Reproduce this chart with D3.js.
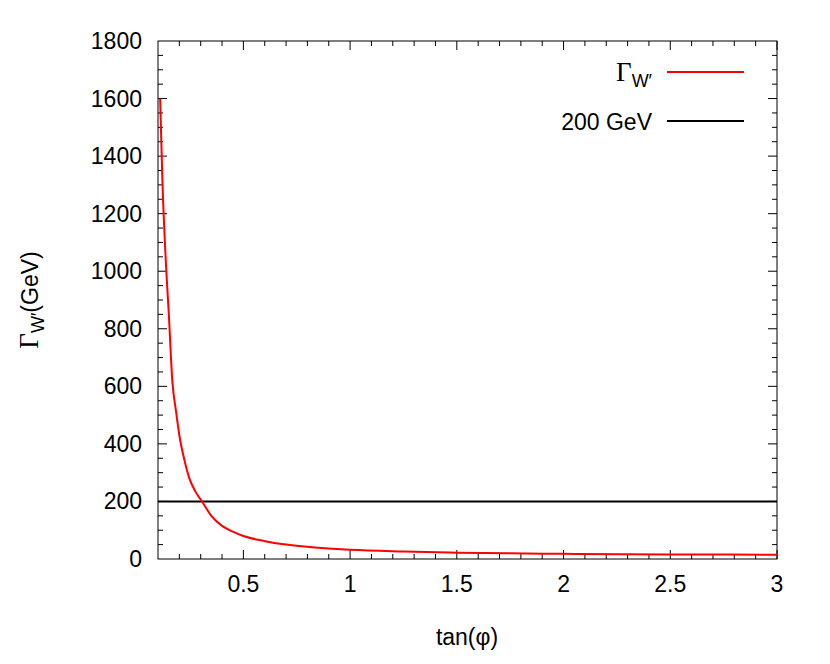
<!DOCTYPE html>
<html><head><meta charset="utf-8">
<script src="https://cdn.jsdelivr.net/npm/d3@7"></script>
<style>body{margin:0;background:#fff}text{font-family:"Liberation Sans",Arial,sans-serif}</style>
</head><body><div id="plot"></div>
<script>
// values
const tanPhi = [0.11, 0.12, 0.139, 0.15, 0.167, 0.185, 0.2, 0.225, 0.247, 0.275, 0.306, 0.35, 0.4, 0.45, 0.5, 0.6, 0.7, 0.85, 1.0, 1.25, 1.5, 2.0, 2.5, 3.0];
const width = [1600, 1330, 1000, 860, 620, 510, 430, 340, 280, 235, 200, 150, 115, 95, 80, 62, 50, 39, 32, 26, 22, 18, 16, 15];
const refLevel = 200;
const xTicks = [0.5, 1, 1.5, 2, 2.5, 3];
const yTicks = [0, 200, 400, 600, 800, 1000, 1200, 1400, 1600, 1800];

const W = 830, H = 664;
const svg = d3.select("#plot").append("svg").attr("width", W).attr("height", H);
const x = d3.scaleLinear().domain([0.1, 3]).range([158, 777]);
const y = d3.scaleLinear().domain([0, 1800]).range([559, 41]);

// frame
svg.append("rect").attr("x", 158).attr("y", 41).attr("width", 619).attr("height", 518)
  .attr("fill", "none").attr("stroke", "#000").attr("stroke-width", 1);

// ticks (gnuplot style: inward, mirrored)
const minorX = d3.range(0.2, 3.0001, 0.1);
const minorY = d3.range(50, 1800, 50);
minorX.forEach(v => {
  const big = xTicks.some(t => Math.abs(t - v) < 1e-6);
  const l = big ? 9 : 5;
  svg.append("line").attr("x1", x(v)).attr("x2", x(v)).attr("y1", 559).attr("y2", 559 - l).attr("stroke", "#000");
  svg.append("line").attr("x1", x(v)).attr("x2", x(v)).attr("y1", 41).attr("y2", 41 + l).attr("stroke", "#000");
});
minorY.forEach(v => {
  const l = v % 200 === 0 ? 9 : 5;
  svg.append("line").attr("x1", 158).attr("x2", 158 + l).attr("y1", y(v)).attr("y2", y(v)).attr("stroke", "#000");
  svg.append("line").attr("x1", 777).attr("x2", 777 - l).attr("y1", y(v)).attr("y2", y(v)).attr("stroke", "#000");
});
svg.selectAll(".xl").data(xTicks).enter().append("text")
  .attr("x", d => x(d)).attr("y", 592).attr("text-anchor", "middle").attr("font-size", 23).text(d => d);
svg.selectAll(".yl").data(yTicks).enter().append("text")
  .attr("x", 142).attr("y", d => y(d) + 8).attr("text-anchor", "end").attr("font-size", 23).text(d => d);

// axis titles
svg.append("text").attr("x", 467).attr("y", 645).attr("text-anchor", "middle").attr("font-size", 23).text("tan(φ)");
const yt = svg.append("text").attr("transform", "translate(38,300) rotate(-90)").attr("text-anchor", "middle").attr("font-size", 23);
yt.append("tspan").attr("font-family", "Liberation Serif, serif").attr("font-size", 27).text("Γ");
yt.append("tspan").attr("dy", 6).attr("font-size", 18).text("W′");
yt.append("tspan").attr("dy", -6).text("(GeV)");

// curves
svg.append("line").attr("x1", x(0.1)).attr("x2", x(3)).attr("y1", y(refLevel)).attr("y2", y(refLevel))
  .attr("stroke", "#000").attr("stroke-width", 2);
const line = d3.line().x((d, i) => x(tanPhi[i])).y(d => y(d)).curve(d3.curveMonotoneX);
svg.append("path").attr("d", line(width)).attr("fill", "none").attr("stroke", "#ff0000").attr("stroke-width", 2);

// legend
svg.append("line").attr("x1", 667).attr("x2", 744).attr("y1", 72).attr("y2", 72).attr("stroke", "#ff0000").attr("stroke-width", 2);
svg.append("line").attr("x1", 667).attr("x2", 744).attr("y1", 121).attr("y2", 121).attr("stroke", "#000").attr("stroke-width", 2);
const lg = svg.append("text").attr("x", 652).attr("y", 81).attr("text-anchor", "end").attr("font-size", 23);
lg.append("tspan").attr("font-family", "Liberation Serif, serif").attr("font-size", 27).text("Γ");
lg.append("tspan").attr("dy", 6).attr("font-size", 18).text("W′");
svg.append("text").attr("x", 652).attr("y", 130).attr("text-anchor", "end").attr("font-size", 23).text("200 GeV");
</script></body></html>
